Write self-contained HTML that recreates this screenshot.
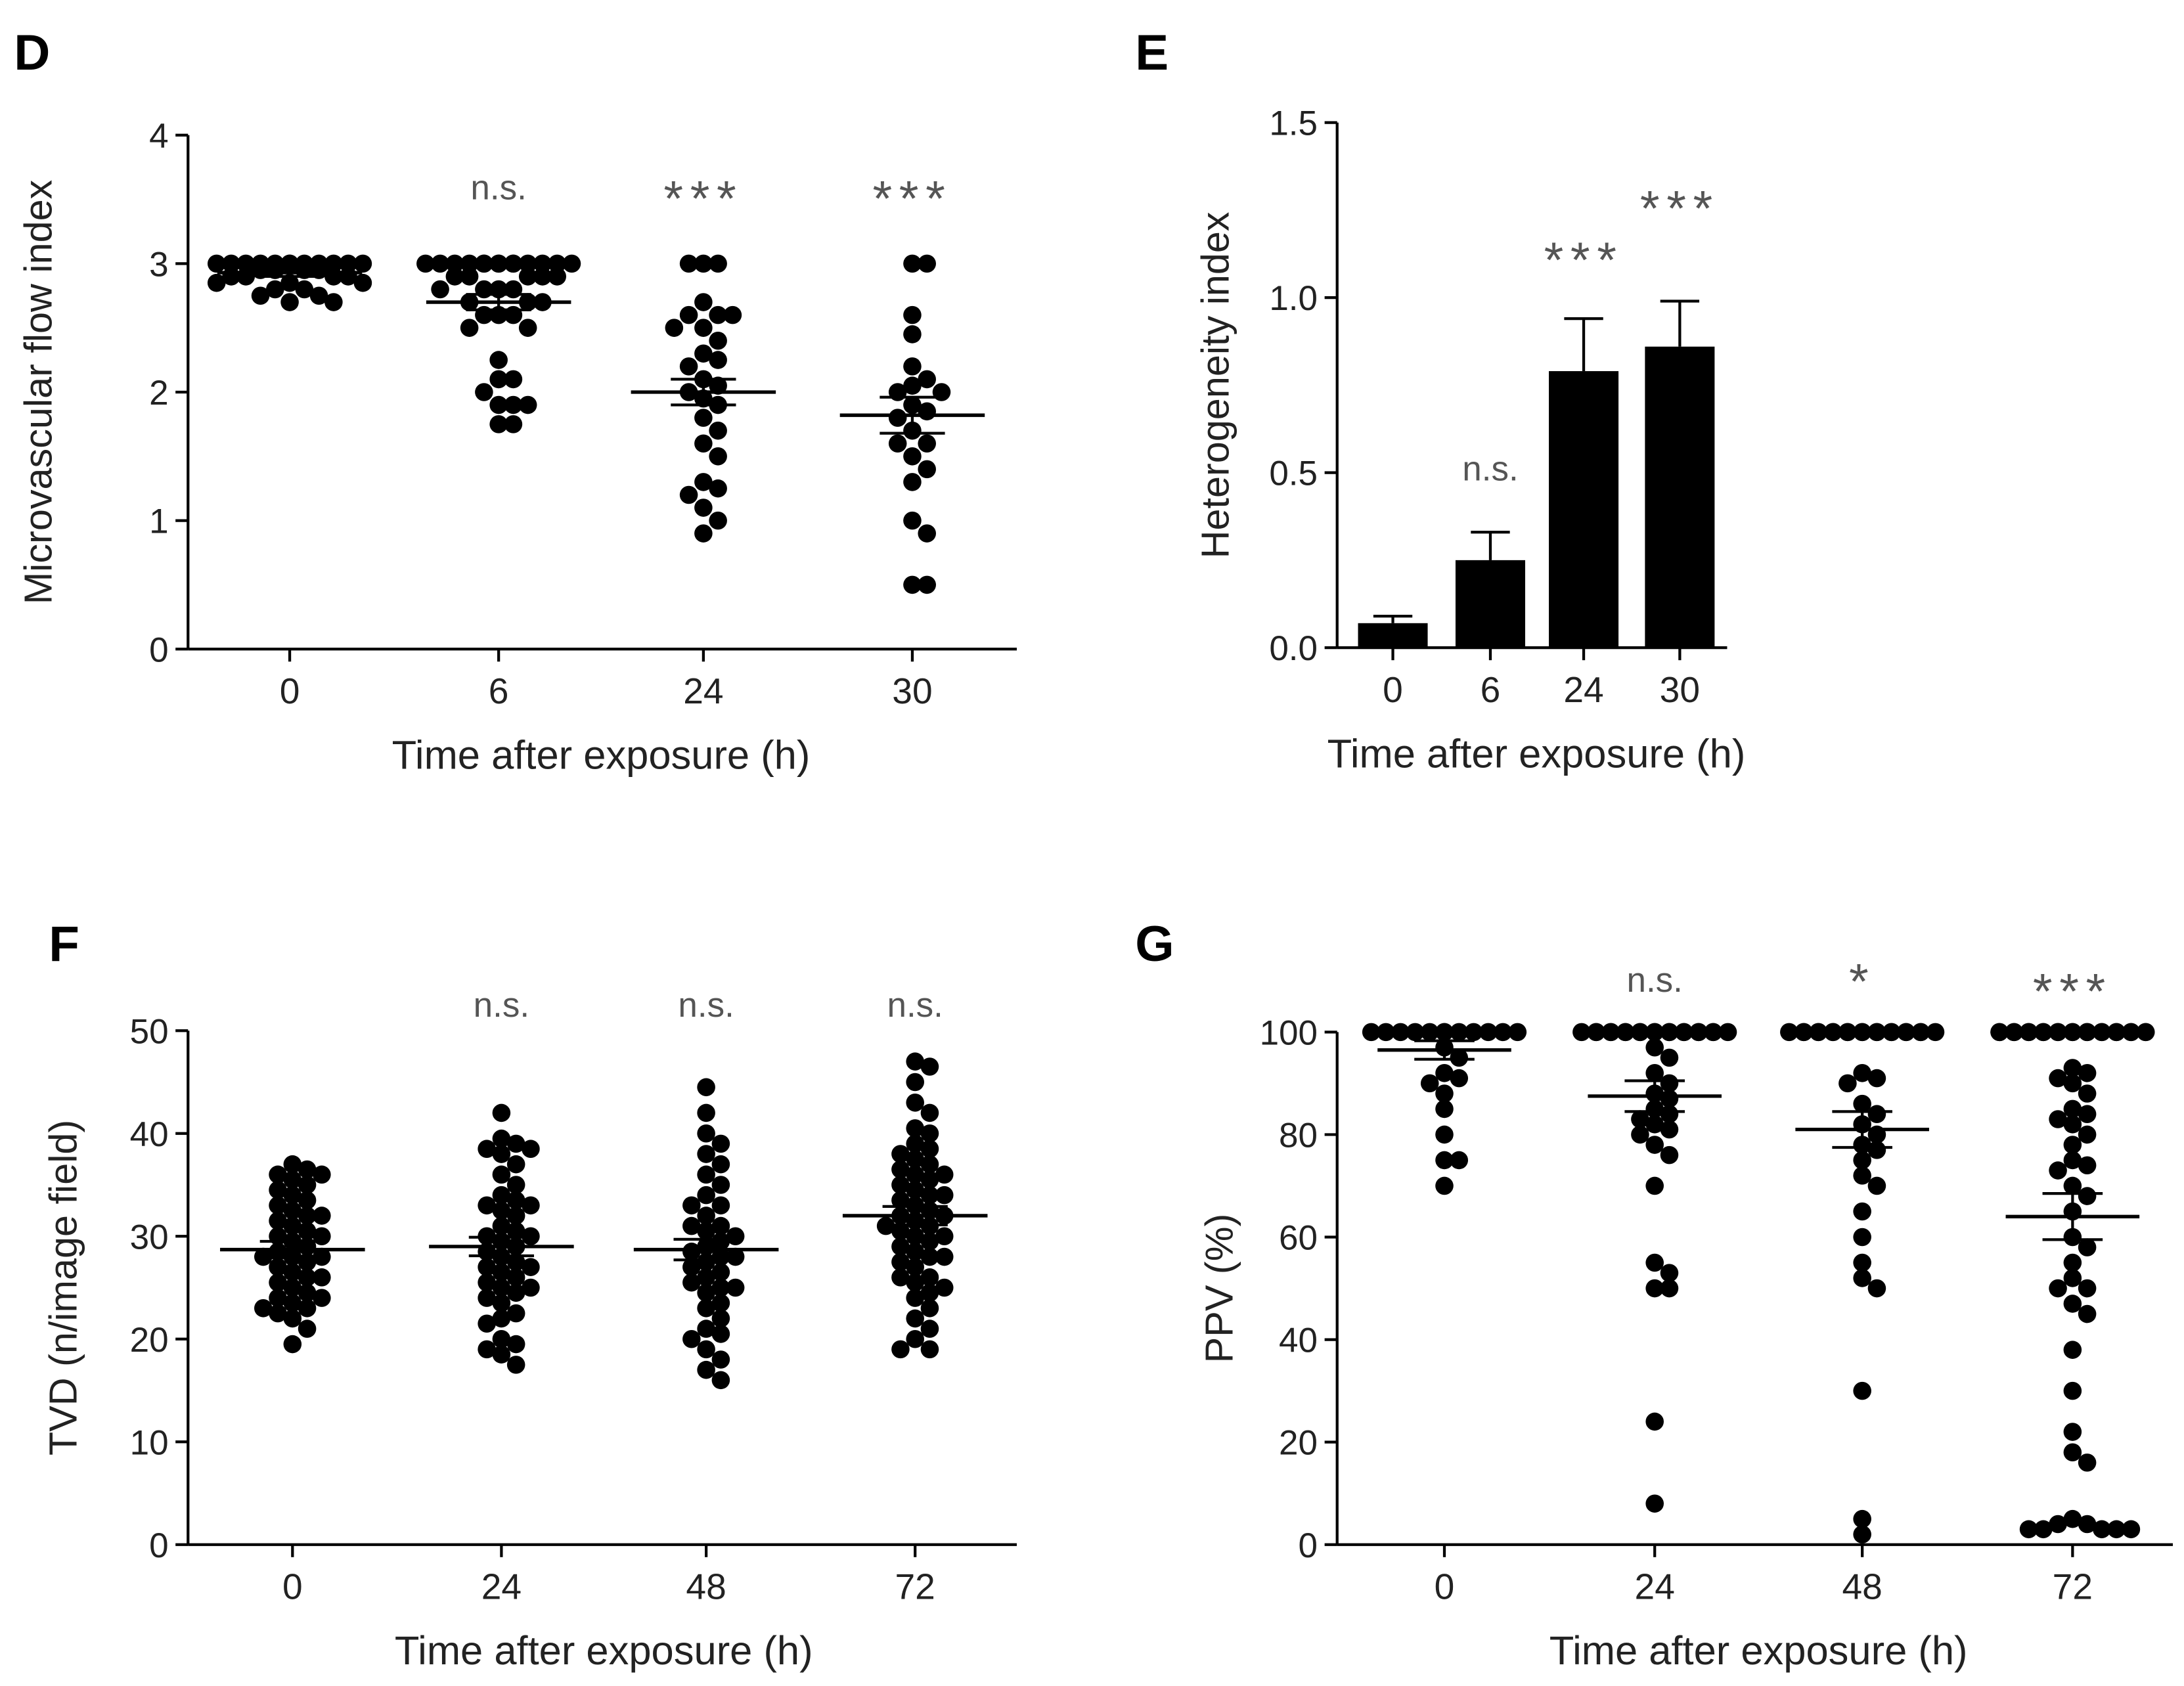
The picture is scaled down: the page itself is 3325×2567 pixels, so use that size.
<!DOCTYPE html>
<html><head><meta charset="utf-8"><style>
html,body{margin:0;padding:0;background:#fff}
svg{display:block}
text{font-family:"Liberation Sans",Arial,sans-serif}
</style></head><body>
<svg id="fig" width="3325" height="2567" viewBox="0 0 1568 1210.5" xmlns="http://www.w3.org/2000/svg"></svg>
<script>
// ---------- Panel D data ----------
const dCats = ["0","6","24","30"];
const dG0 = [3,3,3,3,3,3,3,3,3,3,3,3,2.95,2.95,2.95,2.95,2.9,2.9,2.9,2.9,2.85,2.85,2.85,2.8,2.8,2.75,2.75,2.7,2.7];
const dG1 = [3,3,3,3,3,3,3,3,3,3,3,3,3,3,2.9,2.9,2.9,2.9,2.9,2.8,2.8,2.8,2.8,2.7,2.7,2.7,2.6,2.6,2.6,2.5,2.5,2.25,2.1,2.1,2.0,1.9,1.9,1.9,1.75,1.75];
const dG2 = [3,3,3,2.7,2.6,2.6,2.6,2.5,2.5,2.4,2.3,2.25,2.2,2.1,2.05,2.0,1.95,1.9,1.8,1.7,1.6,1.5,1.3,1.25,1.2,1.1,1.0,0.9];
const dG3 = [3,3,2.6,2.45,2.2,2.1,2.05,2.0,2.0,1.9,1.85,1.8,1.7,1.6,1.6,1.5,1.4,1.3,1.0,0.9,0.5,0.5];
const dMeans = [2.93,2.7,2.0,1.82];
const dSems = [0.03,0.06,0.1,0.14];
const dSig = ["","n.s.","***","***"];
const dTicks = [0,1,2,3,4];
// ---------- Panel E data ----------
const eCats = ["0","6","24","30"];
const eVals = [0.07,0.25,0.79,0.86];
const eErr = [0.02,0.08,0.15,0.13];
const eSig = ["","n.s.","***","***"];
const eTicks = [0,0.5,1.0,1.5];
// ---------- Panel F data ----------
const fCats = ["0","24","48","72"];
const fG0 = [37,36.5,36,36,35.5,35,34.5,34,33.5,33,32.5,32,32,31.5,31,30.5,30,30,29.5,29,28.5,28,28,28,27.5,27,26.5,26,26,25.5,25,24.5,24,24,23.5,23,23,22.5,22,21,19.5];
const fG1 = [42,39.5,39,38.5,38.5,38,37,36,35,34,33.5,33,33,32.5,32,31,30.5,30,30,29.5,29,28.5,28,27.5,27,27,26.5,26,25.5,25,25,24.5,24,23.5,22.5,22,21.5,20,19.5,19,18.5,17.5];
const fG2 = [44.5,42,40,39,38,37,36,35,34,33,33,32,31,31,30.5,30,29.5,29,28.5,28,28,27.5,27,26.5,26,25.5,25,25,24.5,23.5,23,22,21,20.5,20,19,18,17,16];
const fG3 = [47,46.5,45,43,42,40.5,40,39,38.5,38,37.5,37,36.5,36,36,35.5,35,34.5,34,34,33.5,33,32.5,32,32,31.5,31,31,30.5,30,30,29.5,29,28.5,28,28,27.5,27,26,26,25.5,25,24.5,24,23,22,21,20,19,19];
const fMeans = [28.7,29.0,28.7,32.0];
const fSems = [0.8,0.9,1.0,0.9];
const fSig = ["","n.s.","n.s.","n.s."];
const fTicks = [0,10,20,30,40,50];
// ---------- Panel G data ----------
const gCats = ["0","24","48","72"];
const gG0 = [100,100,100,100,100,100,100,100,100,100,100,100,97,95,92,91,90,88,85,80,75,75,70];
const gG1 = [100,100,100,100,100,100,100,100,100,100,100,100,100,100,100,100,100,100,100,100,97,95,92,90,88,87,85,84,83,82,81,80,78,76,70,55,53,50,50,24,8];
const gG2 = [100,100,100,100,100,100,100,100,100,100,100,100,100,100,100,100,100,100,100,100,92,91,90,86,84,82,80,78,77,75,72,70,65,60,55,52,50,30,5,2];
const gG3 = [100,100,100,100,100,100,100,100,100,100,100,100,100,100,100,100,100,100,100,100,100,100,93,92,91,90,88,85,84,83,82,80,78,75,74,73,70,68,65,60,58,55,52,50,50,47,45,38,30,22,18,16,5,4,4,3,3,3,3,3];
const gMeans = [96.5,87.5,81,64];
const gSems = [1.8,3,3.5,4.5];
const gSig = ["","n.s.","*","***"];
const gTicks = [0,20,40,60,80,100];

const NS="http://www.w3.org/2000/svg";
const svg=document.getElementById('fig');
function mk(tag,attrs,parent){const e=document.createElementNS(NS,tag);for(const k in attrs)e.setAttribute(k,attrs[k]);(parent||svg).appendChild(e);return e;}

function panel(cfg){
  const g=mk('g',{});
  
  
  const y=v=>cfg.y0-(v-cfg.vmin)/(cfg.vmax-cfg.vmin)*(cfg.y0-cfg.y1);
  const x=i=>cfg.xs[i];
  const L=mk('text',{x:cfg.lx,y:cfg.ly,'font-size':36,'font-weight':'bold'},g);L.textContent=cfg.letter;
  
  
  const ya=mk('line',{x1:cfg.ax,y1:cfg.y1,x2:cfg.ax,y2:cfg.y0,stroke:'#000','stroke-width':2},g);
  
  
  const xa=mk('line',{x1:cfg.ax,y1:cfg.y0,x2:cfg.axEnd,y2:cfg.y0,stroke:'#000','stroke-width':2},g);
  
  
  cfg.ticks.forEach(t=>{
    mk('line',{x1:cfg.ax-9,y1:y(t),x2:cfg.ax,y2:y(t),stroke:'#000','stroke-width':2},g);
    const tt=mk('text',{x:cfg.ax-14,y:y(t)+9,'font-size':25,'text-anchor':'end',fill:'#222'},g);
    tt.textContent=cfg.tickFmt(t);
    
    
  });
  cfg.cats.forEach((c,i)=>{
    mk('line',{x1:x(i),y1:cfg.y0,x2:x(i),y2:cfg.y0+9,stroke:'#000','stroke-width':2},g);
    const tt=mk('text',{x:x(i),y:cfg.y0+39,'font-size':26,'text-anchor':'middle',fill:'#222'},g);
    tt.textContent=c;
    
    
    if(cfg.sig[i]){
      const star=cfg.sig[i].includes('*');
      const s=mk('text',{x:x(i),y:cfg.sigY(i)+(star?12:0),'font-size':star?36:25,'text-anchor':'middle',fill:'#555','letter-spacing':star?5:0},g);
      s.textContent=cfg.sig[i];
      
      
    }
  });
  const xt=mk('text',{x:(cfg.xs[0]+cfg.xs[3])/2,y:cfg.y0+86,'font-size':29,'text-anchor':'middle',fill:'#222'},g);
  xt.textContent='Time after exposure (h)';
  
  
  const ytx=cfg.ax-cfg.ytOff, ytY=(cfg.y0+cfg.y1)/2;
  const yt=mk('text',{x:ytx,y:ytY,'font-size':28,'text-anchor':'middle',fill:'#222',transform:`rotate(-90 ${ytx} ${ytY})`},g);
  yt.textContent=cfg.ytitle;
  
  
  return {g,y,x};
}

function scatter(cfg,groups,means,sems){
  const {g,y,x}=panel(cfg);
  const r=6.5, step=10.5;
  groups.forEach((vals,i)=>{
    const placed=[];
    vals.forEach(v=>{
      const py=y(v);
      let best=0,bestC=1e9;
      for(let k=0;k<=cfg.maxK*2;k++){
        const off=(k%2?1:-1)*Math.ceil(k/2)*step;
        let c=0;placed.forEach(p=>{const d=Math.hypot(p[0]-off,p[1]-py);if(d<step)c++;});
        if(c<bestC){bestC=c;best=off;if(c===0)break;}
      }
      placed.push([best,py]);
      const d=mk('circle',{cx:x(i)+best,cy:py,r:r,fill:'#000'},g);
      
      
    });
    const m=mk('line',{x1:x(i)-cfg.mw,y1:y(means[i]),x2:x(i)+cfg.mw,y2:y(means[i]),stroke:'#000','stroke-width':2.5},g);
    
    
    [means[i]+sems[i],means[i]-sems[i]].forEach(v=>{
      mk('line',{x1:x(i)-cfg.mw*0.45,y1:y(v),x2:x(i)+cfg.mw*0.45,y2:y(v),stroke:'#000','stroke-width':2},g);
    });
    mk('line',{x1:x(i),y1:y(means[i]+sems[i]),x2:x(i),y2:y(means[i]-sems[i]),stroke:'#000','stroke-width':2},g);
  });
}

scatter({name:'panel-d',letter:'D',lx:10,ly:50,ax:135,axEnd:730,y0:466,y1:97,vmin:0,vmax:4,xs:[208,358,505,655],
  cats:dCats,ticks:dTicks,tickFmt:t=>String(t),sig:dSig,sigY:()=>143,ytitle:'Microvascular flow index',ytOff:98,maxK:5,mw:52},
  [dG0,dG1,dG2,dG3],dMeans,dSems);

(function(){
  const cfg={name:'panel-e',letter:'E',lx:815,ly:50,ax:960,axEnd:1240,y0:465,y1:88,vmin:0,vmax:1.5,xs:[1000,1070,1137,1206],
    cats:eCats,ticks:eTicks,tickFmt:t=>t.toFixed(1),sig:eSig,sigY:i=>[0,345,187,150][i],ytitle:'Heterogeneity index',ytOff:78};
  const {g,y,x}=panel(cfg);
  eVals.forEach((v,i)=>{
    const w=50;
    const top=y(v+eErr[i]);
    mk('line',{x1:x(i),y1:top,x2:x(i),y2:y(v),stroke:'#000','stroke-width':2},g);
    mk('line',{x1:x(i)-14,y1:top,x2:x(i)+14,y2:top,stroke:'#000','stroke-width':2},g);
    const b=mk('rect',{x:x(i)-w/2,y:y(v),width:w,height:y(0)-y(v),fill:'#000'},g);
    
    
  });
})();

scatter({name:'panel-f',letter:'F',lx:35,ly:690,ax:135,axEnd:730,y0:1109,y1:740,vmin:0,vmax:50,xs:[210,360,507,657],
  cats:fCats,ticks:fTicks,tickFmt:t=>String(t),sig:fSig,sigY:()=>730,ytitle:'TVD (n/image field)',ytOff:80,maxK:5,mw:52},
  [fG0,fG1,fG2,fG3],fMeans,fSems);

scatter({name:'panel-g',letter:'G',lx:815,ly:690,ax:960,axEnd:1560,y0:1109,y1:741,vmin:0,vmax:100,xs:[1037,1188,1337,1488],
  cats:gCats,ticks:gTicks,tickFmt:t=>String(t),sig:gSig,sigY:i=>i==2?705:712,ytitle:'PPV (%)',ytOff:75,maxK:5,mw:48},
  [gG0,gG1,gG2,gG3],gMeans,gSems);
</script>
</body></html>
